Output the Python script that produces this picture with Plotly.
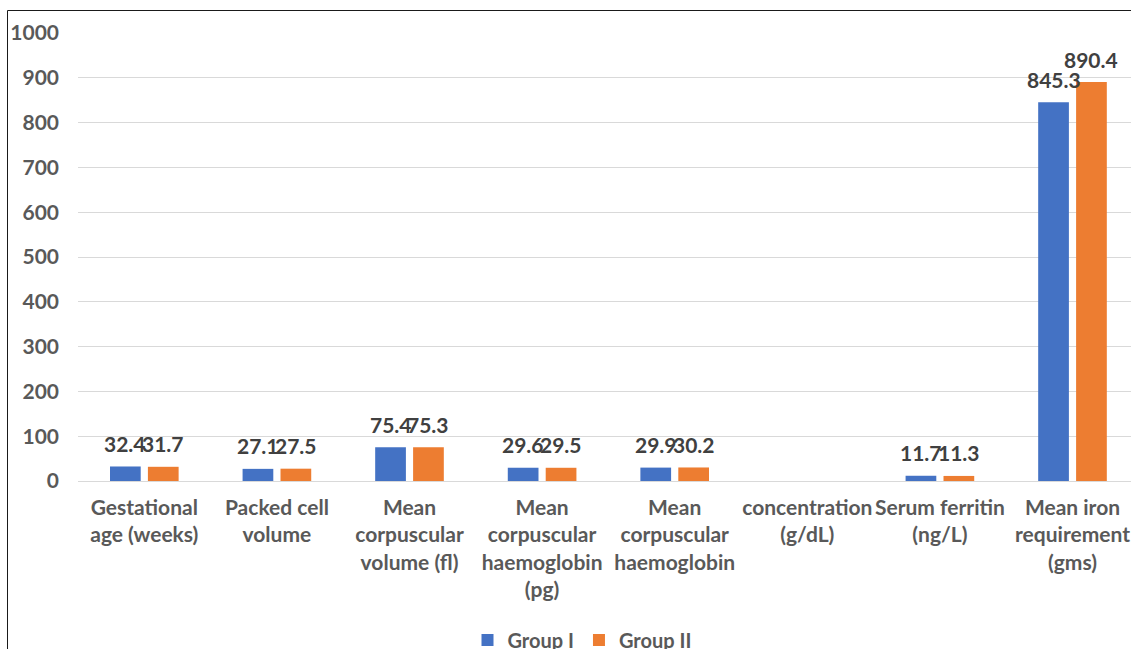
import plotly.graph_objects as go

# Haematological parameters compared between the two study groups
categories = [
    "Gestational<br>age (weeks)",
    "Packed cell<br>volume",
    "Mean<br>corpuscular<br>volume (fl)",
    "Mean<br>corpuscular<br>haemoglobin<br>(pg)",
    "Mean<br>corpuscular<br>haemoglobin",
    "concentration<br>(g/dL)",
    "Serum ferritin<br>(ng/L)",
    "Mean iron<br>requirement<br>(gms)",
]
group_1 = [32.4, 27.1, 75.4, 29.6, 29.9, None, 11.7, 845.3]
group_2 = [31.7, 27.5, 75.3, 29.5, 30.2, None, 11.3, 890.4]
y_ticks = list(range(0, 1001, 100))

W, H = 1131, 649
LEFT, TOP, BOTTOM = 78, 33, 481
FONT = "Lato, 'Liberation Sans', sans-serif"
TEXT_GREY = "#595959"
LABEL_GREY = "#404040"
BARGAP = 0.428
GROUPGAP = 0.19

series = [("Group I", group_1, "#4472C4"), ("Group II", group_2, "#ED7D31")]

fig = go.Figure()
for name, vals, color in series:
    fig.add_trace(go.Bar(
        name=name,
        x=list(range(len(categories))),
        y=vals,
        marker=dict(color=color, line=dict(width=0)),
    ))

# value labels sit a little above each bar, centred on it
slot = (1 - BARGAP) / len(series)
annotations = []
for k, (name, vals, color) in enumerate(series):
    offset = (k - (len(series) - 1) / 2) * slot
    for i, v in enumerate(vals):
        if v is None:
            continue
        annotations.append(dict(
            x=i + offset, y=v, xref="x", yref="y",
            text=f"{v}", showarrow=False,
            yanchor="middle", yshift=23,
            font=dict(family=FONT, size=21, color=LABEL_GREY, weight="bold"),
        ))

plot_w = W - LEFT
plot_h = BOTTOM - TOP
cat_px = 132.6
x_max = plot_w / cat_px - 0.5

def px_to_paper_x(px):
    return (px - LEFT) / plot_w

def px_to_paper_y(py):
    return (BOTTOM - py) / plot_h

fig.update_layout(
    width=W,
    height=H,
    margin=dict(l=LEFT, r=0, t=TOP, b=H - BOTTOM, autoexpand=False),
    paper_bgcolor="white",
    plot_bgcolor="white",
    barmode="group",
    bargap=BARGAP,
    bargroupgap=GROUPGAP,
    font=dict(family=FONT, size=21, color=TEXT_GREY),
    showlegend=True,
    annotations=annotations,
    legend=dict(
        orientation="h",
        x=px_to_paper_x(582),
        xanchor="center",
        y=px_to_paper_y(640),
        yanchor="middle",
        font=dict(family=FONT, size=20, color=TEXT_GREY, weight="bold"),
        itemwidth=30,
        tracegroupgap=0,
    ),
    xaxis=dict(
        range=[-0.5, x_max],
        tickmode="array",
        tickvals=list(range(len(categories))),
        ticktext=categories,
        tickangle=0,
        showgrid=False,
        showline=False,
        zeroline=False,
        ticks="",
        ticklabelstandoff=12,
        tickfont=dict(family=FONT, size=21, color=TEXT_GREY, weight="bold"),
    ),
    yaxis=dict(
        range=[0, 1000],
        tickmode="array",
        tickvals=y_ticks,
        ticktext=[str(v) for v in y_ticks],
        showgrid=True,
        gridcolor="#D9D9D9",
        gridwidth=1,
        zeroline=True,
        zerolinecolor="#D9D9D9",
        zerolinewidth=1,
        showline=False,
        ticks="",
        ticklabelstandoff=18,
        tickfont=dict(family=FONT, size=21, color=TEXT_GREY, weight="bold"),
    ),
    shapes=[
        # chart frame
        dict(type="rect", xref="paper", yref="paper",
             x0=px_to_paper_x(7.5), x1=px_to_paper_x(W + 20),
             y0=px_to_paper_y(H + 20), y1=px_to_paper_y(10.5),
             line=dict(color="#1a1a1a", width=1), layer="above"),
    ],
)

fig.write_html("out.html")
